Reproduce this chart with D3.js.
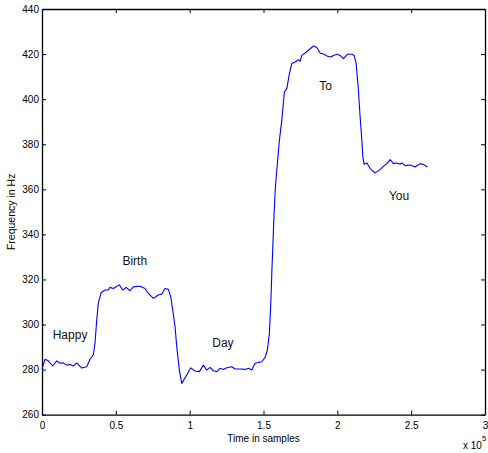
<!DOCTYPE html>
<html>
<head>
<meta charset="utf-8">
<script src="https://cdn.jsdelivr.net/npm/d3@7"></script>
<style>
  html, body { margin: 0; padding: 0; background: #fff; }
  svg { display: block; font-family: "Liberation Sans", Arial, sans-serif; }
</style>
</head>
<body>
<svg id="chart" width="488" height="453"></svg>
<script>
// Pitch contour of a sung phrase: fundamental frequency over time
const timeSamples = [
  0, 2030, 4270, 7250, 9960, 12200, 14430, 16730, 18970, 21210, 23510, 26900,
  30280, 32520, 34760, 35910, 37060, 38140, 39970, 42680, 44920, 46070, 48310,
  50610, 52370, 54670, 56910, 59620, 61860, 66400, 69780, 72020, 75410, 78790,
  81100, 83330, 85570, 87190, 88550, 90110, 91260, 93020, 94650, 98030, 100740,
  103660, 106570, 109280, 111580, 113820, 116060, 118360, 120600, 122830, 125130,
  128520, 130760, 134150, 137530, 139770, 142070, 144310, 146540, 148850, 151080,
  152640, 153990, 154940, 155620, 156300, 157180, 158060, 159010, 160770, 162390,
  164150, 165780, 167540, 169170, 171400, 173640, 174800, 175950, 178180, 180420,
  183810, 186110, 188340, 191060, 193290, 195590, 197350, 199660, 201890, 204130,
  206840, 209820, 211380, 212740, 214290, 215440, 216600, 217270, 218160, 219990,
  222220, 225610, 228520, 231230, 233530, 235770, 238010, 240310, 242550, 243700,
  245930, 249320, 252710, 256100, 258330, 261040
];
const pitchHz = [
  280.3, 284.6, 283.9, 281.6, 283.9, 282.8, 283.0, 282.0, 282.3, 281.6, 283.0, 280.7,
  281.3, 284.6, 286.5, 291.8, 302.0, 309.5, 314.1, 315.3, 315.3, 316.5, 316.0,
  317.0, 317.6, 315.3, 316.5, 315.0, 316.7, 317.0, 316.0, 313.8, 311.6, 313.1,
  313.5, 316.0, 315.6, 312.3, 306.4, 299.0, 290.1, 279.8, 273.9, 277.6, 280.8,
  279.4, 279.1, 282.0, 279.8, 281.0, 279.5, 279.1, 280.6, 280.1, 280.8,
  281.3, 280.3, 280.3, 280.1, 280.6, 279.8, 282.8, 283.2, 283.5, 285.4,
  288.7, 296.1, 309.4, 322.7, 334.5, 349.3, 361.1, 368.5, 381.8, 390.6,
  403.2, 404.7, 411.3, 415.8, 416.5, 417.5, 416.8, 419.4, 420.5, 421.7,
  423.6, 422.9, 420.5, 419.9, 419.0, 418.7, 419.4, 419.9, 419.4, 418.0,
  419.9, 419.9, 419.4, 415.8, 403.9, 392.1, 381.8, 374.4, 371.1, 371.7,
  369.2, 367.3, 368.5, 370.2, 371.4, 373.2, 371.4, 371.7, 371.1, 371.7,
  370.5, 370.8, 369.9, 371.4, 371.0, 369.9
];

// Lyrics written over the contour (centre in samples, baseline in Hz)
const words = ["Happy", "Birth", "Day", "To", "You"];
const wordTime = [19000, 62800, 122500, 192100, 241800];
const wordHz = [293.4, 326.4, 289.9, 403.9, 355.4];

const xTicks = [0, 50000, 100000, 150000, 200000, 250000, 300000];
const yTicks = [260, 280, 300, 320, 340, 360, 380, 400, 420, 440];
const xDomain = [0, 300000];
const yDomain = [260, 440];

const svg = d3.select("#chart");
const margin = { left: 42, right: 3, top: 9, bottom: 38.3 };
const W = +svg.attr("width"), H = +svg.attr("height");

const x = d3.scaleLinear().domain(xDomain).range([margin.left, W - margin.right]);
const y = d3.scaleLinear().domain(yDomain).range([H - margin.bottom, margin.top]);

const fmtX = d => String(+(d / 1e5).toFixed(1));

// Frame with inward ticks on all four sides
function styleAxis(g) {
  g.selectAll(".domain").attr("stroke", "#000").attr("stroke-width", 1.3);
  g.selectAll(".tick line").attr("stroke", "#000").attr("stroke-width", 1);
  g.selectAll(".tick text").attr("fill", "#000").attr("font-size", 10)
    .attr("font-family", "'Liberation Sans', Arial, sans-serif");
}

svg.append("g")
  .attr("transform", `translate(0,${y(yDomain[0])})`)
  .call(d3.axisBottom(x).tickValues(xTicks).tickFormat(fmtX)
    .tickSizeInner(-4).tickSizeOuter(0).tickPadding(7))
  .call(styleAxis);

svg.append("g")
  .attr("transform", `translate(0,${y(yDomain[1])})`)
  .call(d3.axisTop(x).tickValues(xTicks).tickFormat("")
    .tickSizeInner(-4).tickSizeOuter(0))
  .call(styleAxis);

svg.append("g")
  .attr("transform", `translate(${x(xDomain[0])},0)`)
  .call(d3.axisLeft(y).tickValues(yTicks)
    .tickSizeInner(-4).tickSizeOuter(0).tickPadding(3))
  .call(styleAxis);

svg.append("g")
  .attr("transform", `translate(${x(xDomain[1])},0)`)
  .call(d3.axisRight(y).tickValues(yTicks).tickFormat("")
    .tickSizeInner(-4).tickSizeOuter(0))
  .call(styleAxis);

// Pitch curve
const pts = timeSamples.map((t, i) => [t, pitchHz[i]]);
svg.append("path")
  .datum(pts)
  .attr("fill", "none")
  .attr("stroke", "#0000ff")
  .attr("stroke-width", 1.1)
  .attr("stroke-linejoin", "round")
  .attr("d", d3.line().x(d => x(d[0])).y(d => y(d[1])));

// Word labels
svg.append("g")
  .selectAll("text")
  .data(words)
  .join("text")
  .attr("x", (d, i) => x(wordTime[i]))
  .attr("y", (d, i) => y(wordHz[i]))
  .attr("text-anchor", "middle")
  .attr("font-size", 12)
  .attr("fill", "#111")
  .text(d => d);

// Axis titles
const plotMidX = (x(xDomain[0]) + x(xDomain[1])) / 2;
const plotMidY = (y(yDomain[0]) + y(yDomain[1])) / 2;

svg.append("text")
  .attr("x", plotMidX)
  .attr("y", 442)
  .attr("text-anchor", "middle")
  .attr("font-size", 10)
  .text("Time in samples");

svg.append("text")
  .attr("transform", `translate(15,${plotMidY}) rotate(-90)`)
  .attr("text-anchor", "middle")
  .attr("font-size", 10.5)
  .text("Frequency in Hz");

// Exponent note for the x axis
const expo = svg.append("text")
  .attr("x", 463)
  .attr("y", 449)
  .attr("font-size", 10);
expo.append("tspan").text("x 10");
expo.append("tspan").attr("dy", -8).attr("font-size", 7.5).text("5");
</script>
</body>
</html>
